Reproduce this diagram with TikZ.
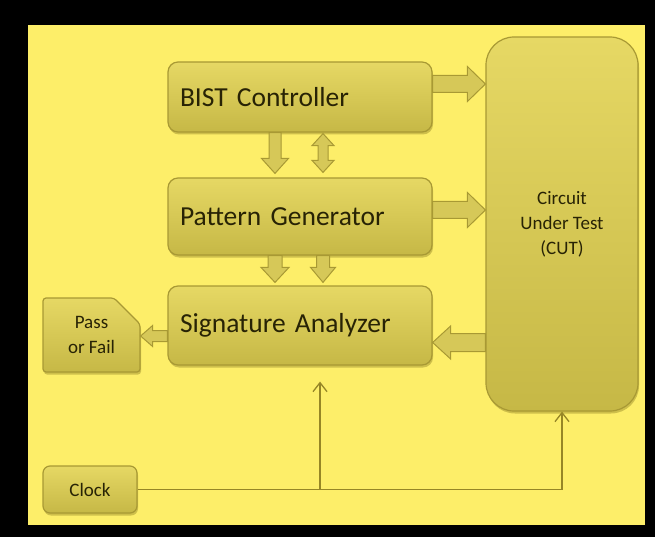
\documentclass[tikz,border=0pt]{standalone}
\usepackage{fontspec}
\setmainfont{Carlito}
\usetikzlibrary{calc,arrows.meta,shapes.misc,shadows}
\definecolor{bg}{RGB}{253,238,105}
\definecolor{boxtop}{RGB}{230,216,100}
\definecolor{boxbot}{RGB}{198,184,70}
\definecolor{boxline}{RGB}{168,153,52}
\definecolor{txt}{RGB}{40,35,5}
\definecolor{wirecol}{RGB}{150,134,38}
\definecolor{arrfill}{RGB}{214,200,88}
\definecolor{shadowcol}{RGB}{150,135,40}

\tikzset{
  box/.style={rectangle, rounded corners=10pt, draw=boxline, line width=1.2pt,
    top color=boxtop, bottom color=boxbot, text=txt, inner sep=0pt,
    drop shadow={shadow xshift=1pt, shadow yshift=-2.5pt, opacity=0.45, fill=shadowcol}},
  bigbox/.style={box, font=\fontsize{27.5}{31}\selectfont, align=left, text width=240pt,
    minimum width=264pt},
  smallbox/.style={box, font=\fontsize{19}{25}\selectfont, align=center},
  barrow/.style={fill=arrfill, draw=boxline, line width=1pt, line join=miter},
  wire/.style={draw=wirecol, line width=1.3pt},
  wirearrow/.style={wire, -{Straight Barb[length=9pt,width=14pt,line width=1.3pt]}},
}

\newcommand{\blockarrow}[5]{%
  \coordinate (ba-h) at ($(#2)!#5!(#1)$);
  \filldraw[barrow] ($(#1)!#3!90:(#2)$) -- ($(ba-h)!#3!90:(#2)$) -- ($(ba-h)!#4!90:(#2)$)
    -- (#2) -- ($(ba-h)!#4!-90:(#2)$) -- ($(ba-h)!#3!-90:(#2)$) -- ($(#1)!#3!-90:(#2)$) -- cycle;}
\newcommand{\dblarrow}[5]{%
  \coordinate (da-a) at ($(#1)!#5!(#2)$);
  \coordinate (da-b) at ($(#2)!#5!(#1)$);
  \filldraw[barrow] (#1) -- ($(da-a)!#4!90:(#2)$) -- ($(da-a)!#3!90:(#2)$) -- ($(da-b)!#3!90:(#2)$)
    -- ($(da-b)!#4!90:(#2)$) -- (#2) -- ($(da-b)!#4!-90:(#2)$) -- ($(da-b)!#3!-90:(#2)$)
    -- ($(da-a)!#3!-90:(#2)$) -- ($(da-a)!#4!-90:(#2)$) -- cycle;}

\begin{document}
\begin{tikzpicture}[x=1pt, y=-1pt]
  % frame and background
  \fill[black] (0,0) rectangle (655,537);
  \fill[bg] (28,25) rectangle (645,525);
  \useasboundingbox (0,0) rectangle (655,537);

  % nodes
  \node[bigbox, minimum height=70pt] (bist) at (300,97) {BIST Controller};
  \node[bigbox, minimum height=77pt] (pg) at (300,216.5) {Pattern Generator};
  \node[bigbox, minimum height=79pt] (sa) at (300,325.5) {Signature Analyzer};
  \node[smallbox, rounded corners=28pt, minimum width=152pt, minimum height=374pt] (cut) at (562,224)
     {Circuit\\Under Test\\(CUT)};
  \node[smallbox, chamfered rectangle, chamfered rectangle corners=north east,
     chamfered rectangle xsep=12pt, chamfered rectangle ysep=14pt, rounded corners=3pt,
     minimum width=97pt, minimum height=74pt] (pf) at (91.5,335) {Pass\\or Fail};
  \node[smallbox, rounded corners=7pt, minimum width=94pt, minimum height=47pt] (clock) at (90,489.5) {Clock};

  % helper coordinates for arrow rows / columns
  \coordinate (r1) at (0,84);
  \coordinate (r2) at (0,210);
  \coordinate (r3) at (0,342.5);
  \coordinate (r4) at (0,336);
  \coordinate (c1) at (275,0);
  \coordinate (c2) at (323,0);
  \coordinate (cb) at (320,0);

  \coordinate (a1s) at (bist.east |- r1);
  \coordinate (a1e) at (cut.west |- r1);
  \coordinate (a2s) at (pg.east |- r2);
  \coordinate (a2e) at (cut.west |- r2);
  \coordinate (a3s) at (cut.west |- r3);
  \coordinate (a3e) at (sa.east |- r3);
  \coordinate (a4s) at (sa.west |- r4);
  \coordinate (a4e) at (pf.east |- r4);
  \coordinate (v1s) at (bist.south -| c1);
  \coordinate (v1e) at ($(pg.north -| c1)+(0,-4)$);
  \coordinate (v2s) at ($(bist.south -| c2)+(0,1)$);
  \coordinate (v2e) at ($(pg.north -| c2)+(0,-5)$);
  \coordinate (v3s) at (pg.south -| c1);
  \coordinate (v3e) at ($(sa.north -| c1)+(0,-3)$);
  \coordinate (v4s) at (pg.south -| c2);
  \coordinate (v4e) at ($(sa.north -| c2)+(0,-3)$);

  % block arrows
  \blockarrow{a1s}{a1e}{8.5pt}{17.5pt}{18pt}
  \blockarrow{a2s}{a2e}{8.5pt}{17.5pt}{18pt}
  \blockarrow{a3s}{a3e}{9pt}{16.5pt}{18pt}
  \blockarrow{a4s}{a4e}{5.5pt}{10.5pt}{12pt}
  \blockarrow{v1s}{v1e}{6pt}{13.5pt}{15pt}
  \dblarrow{v2s}{v2e}{5pt}{11pt}{12pt}
  \blockarrow{v3s}{v3e}{7pt}{14pt}{15pt}
  \blockarrow{v4s}{v4e}{6.5pt}{12.5pt}{15pt}

  % clock wiring
  \draw[wirearrow] (clock.east) -| (cut.south);
  \coordinate (cbr) at (clock.east -| cb);
  \coordinate (cbe) at ($(sa.south -| cb)+(0,16)$);
  \draw[wirearrow] (cbr) -- (cbe);
\end{tikzpicture}
\end{document}
